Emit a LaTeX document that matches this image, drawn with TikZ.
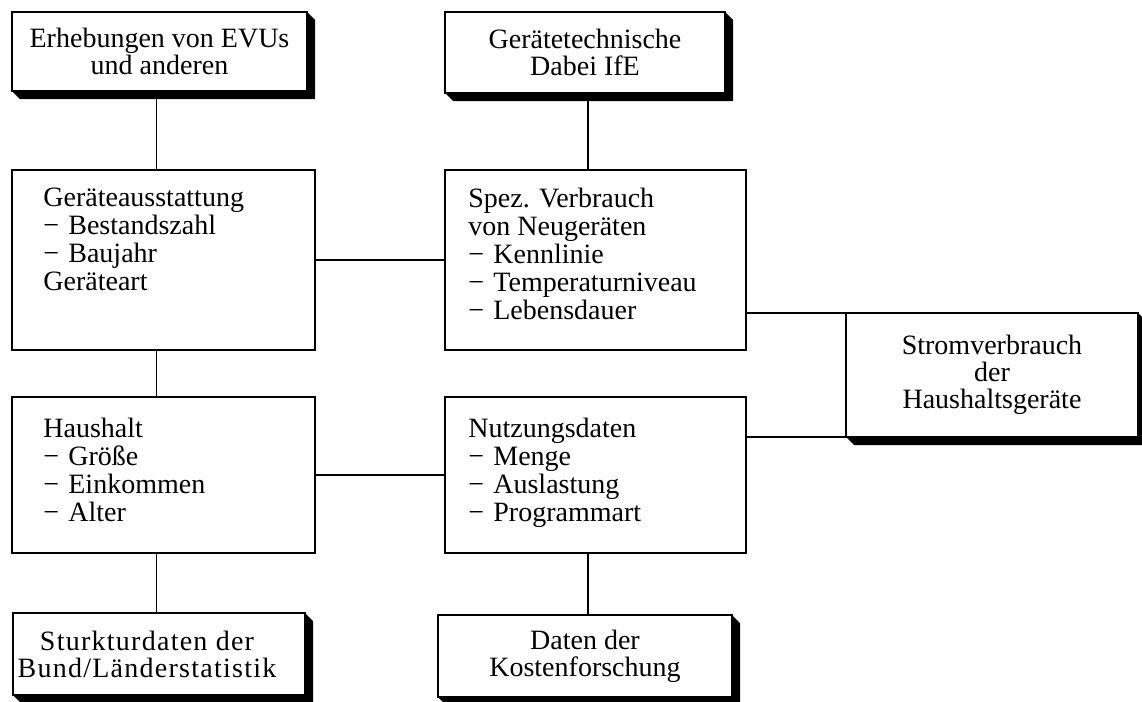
\documentclass[tikz,border=0pt]{standalone}
\usepackage{fontspec}
\setmainfont{Liberation Serif}
\newcommand\lidash{\makebox[12.5pt][l]{−}}
\begin{document}
\begin{tikzpicture}[x=0.5pt,y=-0.5pt,
  box/.style={draw, line width=0.8pt, inner sep=0pt, outer sep=0pt, anchor=north west, fill=white,
    align=center, font=\fontsize{14}{13.5}\selectfont},
  listtxt/.style={inner sep=0pt, anchor=north west, align=left, font=\fontsize{14}{14}\selectfont},
  link/.style={line width=0.7pt},
  shadowfill/.style={fill=black}]
\useasboundingbox (0,0) rectangle (1142,702);
% boxes
\node[box, minimum width=147.5pt, minimum height=39.5pt] (A) at (12,12) {Erhebungen von EVUs\\und anderen};
\node[box, minimum width=140pt, minimum height=40.5pt] (B) at (445,12) {Gerätetechnische\\Dabei IfE};
\node[box, minimum width=151.5pt, minimum height=90pt] (C) at (12,170) {};
\node[box, minimum width=150.5pt, minimum height=90pt] (D) at (445,170) {};
\node[box, minimum width=151.5pt, minimum height=78pt] (E) at (12,397) {};
\node[box, minimum width=150.5pt, minimum height=78pt] (F) at (445,397) {};
\node[box, minimum width=146pt, minimum height=62pt] (G) at (846,313) {Stromverbrauch\\der\\Haushaltsgeräte};
\node[box, minimum width=146pt, minimum height=41pt] (H) at (13,613) {};
\node[box, minimum width=147pt, minimum height=41pt] (I) at (438,615) {Daten der\\Kostenforschung};
% shadows
\foreach \n in {A,B,G,H,I}{
  \fill[shadowfill] (\n.north east) -- ++(8,8) -- ([shift={(8,8)}]\n.south east)
    -- ([shift={(8,8)}]\n.south west) -- (\n.south west) -- (\n.south east) -- cycle;
}
% texts
\node[inner sep=0pt, align=center, xshift=-6pt,
  font=\fontsize{14}{13.5}\selectfont\addfontfeature{LetterSpace=4.5}] (Ht) at (H.center)
  {Sturkturdaten der\\Bund/Länderstatistik};
\node[listtxt, xshift=15.5pt, yshift=-9pt] (Ct) at (C.north west)
  {Geräteausstattung\\\lidash Bestandszahl\\\lidash Baujahr\\Geräteart};
\node[listtxt, xshift=11.5pt, yshift=-9pt] (Dt) at (D.north west)
  {Spez. Verbrauch\\von Neugeräten\\\lidash Kennlinie\\\lidash Temperaturniveau\\\lidash Lebensdauer};
\node[listtxt, xshift=15.5pt, yshift=-10.5pt] (Et) at (E.north west)
  {Haushalt\\\lidash Größe\\\lidash Einkommen\\\lidash Alter};
\node[listtxt, xshift=11.5pt, yshift=-10.5pt] (Ft) at (F.north west)
  {Nutzungsdaten\\\lidash Menge\\\lidash Auslastung\\\lidash Programmart};
% connectors
\draw[link] ([xshift=-1.5pt]A.south) -- ([xshift=-1.5pt]A.south |- C.north);
\draw[link] ([xshift=1.5pt]B.south) -- ([xshift=1.5pt]B.south |- D.north);
\draw[link] ([xshift=-1.5pt]A.south |- C.south) -- ([xshift=-1.5pt]A.south |- E.north);
\draw[link] ([xshift=-1.5pt]A.south |- E.south) -- ([xshift=-1.5pt]A.south |- H.north);
\draw[link] ([xshift=1.5pt]B.south |- F.south) -- ([xshift=1.5pt]B.south |- I.north);
\draw[link] (C.east) -- (D.west);
\draw[link] (E.east) -- (F.west);
\draw[link] (D.east |- G.north) -- (G.north west);
\draw[link] (F.east |- G.south) -- (G.south west);
\end{tikzpicture}
\end{document}
